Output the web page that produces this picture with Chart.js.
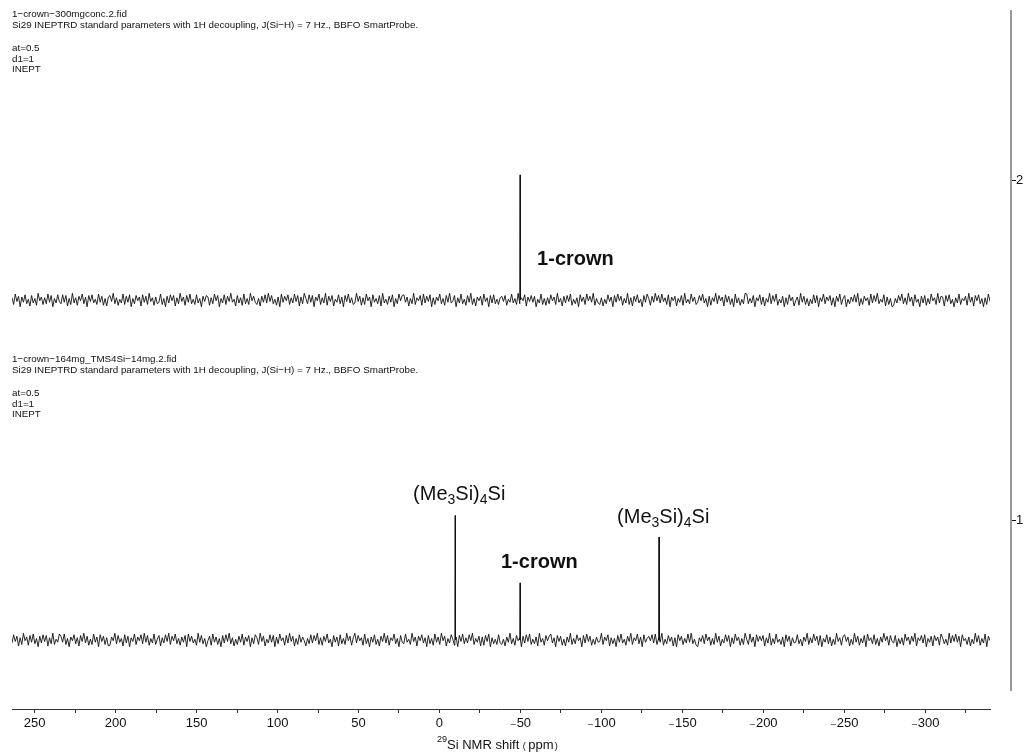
<!DOCTYPE html>
<html>
<head>
<meta charset="utf-8">
<script src="https://cdn.jsdelivr.net/npm/chart.js@4.4.0/dist/chart.umd.min.js"></script>
<style>
  html, body { margin: 0; padding: 0; background: #fff; }
  #wrap { width: 1026px; height: 753px; position: relative; }
</style>
</head>
<body>
<div id="wrap"><canvas id="nmr"></canvas></div>
<script>
// ppm window of the spectrum (left edge -> right edge)
var ppmLeft = 264;
var ppmRight = -340;
var xTickValues = [250, 225, 200, 175, 150, 125, 100, 75, 50, 25, 0, -25, -50, -75, -100, -125, -150, -175, -200, -225, -250, -275, -300, -325];
var yTickValues = [1, 2];

// spectrum 2 (top): 1-crown only
var topPeakShifts = [-49.8];
var topPeakHeights = [0.368];
// spectrum 1 (bottom): 1-crown + (Me3Si)4Si
var bottomPeakShifts = [-9.7, -49.8, -135.6];
var bottomPeakHeights = [0.366, 0.168, 0.303];

// baseline noise (units of ~0.0024)
var topNoise = [3,-6,8,-2,5,-9,4,-3,7,-5,1,-8,6,-4,2,-7,9,-1,4,-6,3,-5,8,-3,6,-9,2,-4,7,-2,
  -5,7,-3,6,-8,2,-6,9,-4,3,-7,5,-1,8,-5,4,-9,6,-2,7,-4,1,-6,8,-3,5,-7,2,-8,4,
  6,-2,9,-5,3,-7,1,-4,8,-6,5,-3,7,-9,2,-5,6,-1,4,-8,7,-3,5,-6,9,-2,3,-7,4,-5,
  -3,8,-6,2,-9,5,-4,7,-1,6,-8,3,-5,9,-2,4,-7,6,-3,8,-5,1,-6,7,-4,2,-9,5,-2,6,
  4,-7,3,-5,8,-1,6,-9,2,-4,7,-6,5,-2,9,-3,1,-8,6,-4,3,-7,8,-5,2,-6,9,-1,5,-3,
  -6,2,-8,5,-3,7,-4,9,-2,6,-5,1,-7,4,-9,8,-3,5,-1,7,-6,3,-4,8,-2,6,-8,4,-5,9,
  2,-5,7,-3,6,-9,4,-1,8,-6,3,-4,9,-7,5,-2,6,-8,1,-3,7,-5,4,-9,6,-2,8,-4,3,-6,
  -4,9,-2,5,-7,3,-6,8,-1,4,-9,7,-3,2,-5,6,-8,9,-4,1,-6,5,-3,7,-9,2,-5,8,-1,6,
  7,-3,4,-8,2,-5,9,-6,3,-1,6,-7,8,-4,5,-2,7,-9,3,-6,4,-1,8,-5,2,-7,6,-3,9,-4,
  -2,6,-9,3,-4,8,-5,1,-7,6,-3,9,-6,2,-8,4,-1,5,-7,8,-2,3,-9,6,-4,7,-5,1,-6,3,
  5,-2,6,-7,1,-3,8,-4,2,-6,9,-5,3,-1,7,-8,4,-2,6,-3,5,-9,1,-4,8,-6,2,-7,3,-5,
  7,-1,4,-6,9,-3,2,-8,5,-4,6,-2,8,-7,1,-5,3,-9,7,-2,4,-6,8,-1,5,-3,9,-7,2,-4,
  -6,3,-8,1,-5,7,-2,4,-9,6,-3,8,-1,5,-7,2,-4,9,-6,3,-8,5,-2,7,-4,1,-9,6,-3,8,
  2,-7,5,-3,9,-1,6,-4,8,-2,3,-6,7,-9,4,-1,5,-8,2,-3,6,-7,9,-4,1,-5,8,-2,4,-6,
  -3,6,-1,8,-4,2,-9,5,-7,3,-2,9,-5,6,-1,4,-8,7,-3,5,-6,2,-9,8,-4,3,-7,1,-5,9,
  8,-5,2,-4,6,-9,3,-1,7,-6,4,-8,2,-3,9,-5,6,-2,8,-7,1,-4,5,-9,3,-6,7,-1,4,-8,
  -1,4,-7,9,-3,5,-6,2,-8,1,-5,7,-4,6,-9,3,-2,8,-5,4,-1,6,-7,3,-9,5,-2,8,-6,2,
  6,-9,1,-5,4,-2,7,-3,9,-8,2,-6,5,-1,3,-7,8,-4,6,-2,9,-5,1,-3,7,-8,4,-6,2,-9,
  -7,2,-4,6,-1,8,-5,3,-6,9,-2,4,-8,7,-3,1,-9,5,-4,6,-7,2,-5,8,-1,3,-6,9,-4,5,
  4,-8,6,-2,7,-5,1,-9,3,-4,8,-6,2,-1,5,-7,9,-3,4,-8,6,-1,7,-5,2,-9,3,-6,8,-2];
var bottomNoise = [-4,7,-2,5,-8,3,-6,9,-1,4,-7,6,-3,8,-5,2,-9,5,-4,7,-2,6,-8,3,-5,9,-6,1,-3,8,
  5,-3,8,-6,2,-9,4,-1,7,-5,3,-8,6,-2,9,-4,5,-7,1,-6,8,-3,4,-9,7,-2,5,-6,3,-8,
  -7,4,-1,9,-5,6,-3,2,-8,7,-4,5,-9,3,-2,8,-6,4,-1,7,-5,9,-3,6,-7,2,-4,8,-6,1,
  6,-8,3,-4,7,-2,9,-6,5,-1,8,-5,2,-7,4,-3,6,-9,8,-2,5,-4,1,-7,9,-3,6,-5,2,-9,
  -1,5,-7,8,-3,4,-6,2,-9,6,-4,7,-2,9,-5,3,-8,1,-6,5,-3,8,-7,4,-2,6,-9,3,-5,7,
  3,-6,9,-2,5,-8,1,-4,7,-3,6,-9,4,-5,8,-1,3,-7,6,-4,9,-2,5,-8,2,-6,7,-3,4,-1,
  -8,2,-5,7,-4,6,-1,9,-6,3,-7,5,-2,8,-4,1,-9,6,-3,4,-8,7,-5,2,-6,9,-1,5,-7,3,
  9,-4,6,-1,3,-7,8,-5,2,-9,4,-3,7,-6,1,-8,5,-2,9,-4,6,-7,3,-1,8,-5,2,-9,6,-3,
  -5,8,-3,1,-6,9,-2,4,-8,5,-1,7,-4,3,-9,6,-5,2,-7,8,-3,4,-6,9,-1,5,-8,2,-4,7,
  1,-7,4,-9,6,-2,8,-5,3,-4,7,-1,9,-6,2,-3,5,-8,4,-7,6,-2,8,-9,3,-5,1,-6,7,-4,
  -6,1,-8,4,-3,9,-5,2,-7,6,-1,3,-9,5,-4,7,-2,8,-6,1,-5,4,-8,9,-3,2,-7,6,-1,5,
  8,-4,3,-9,6,-2,5,-7,1,-8,4,-3,9,-6,2,-5,7,-1,3,-9,6,-4,8,-2,5,-7,1,-6,4,-3,
  -2,9,-6,4,-1,7,-8,3,-5,2,-9,6,-3,8,-4,1,-7,5,-2,9,-6,3,-1,8,-5,4,-9,7,-3,2,
  5,-1,7,-4,8,-6,2,-3,9,-7,1,-5,6,-2,4,-8,3,-9,7,-1,5,-6,2,-4,8,-3,9,-5,1,-7,
  -9,3,-2,6,-5,8,-1,4,-7,2,-6,9,-3,5,-8,1,-4,7,-2,6,-9,3,-5,8,-1,4,-7,2,-6,9,
  1,-6,8,-3,4,-9,7,-2,5,-1,6,-8,3,-4,9,-7,2,-5,8,-3,1,-6,4,-9,7,-2,5,-8,3,-4,
  -3,7,-5,1,-8,4,-2,9,-6,3,-4,8,-1,5,-7,6,-9,2,-3,7,-5,4,-8,1,-6,9,-2,3,-7,5,
  7,-2,4,-8,1,-6,9,-3,5,-7,2,-4,6,-9,8,-1,3,-5,7,-6,2,-8,4,-3,9,-1,5,-7,6,-2,
  -4,6,-9,2,-5,3,-7,8,-1,4,-6,5,-2,9,-8,3,-1,6,-4,7,-9,2,-3,5,-8,6,-1,4,-7,8,
  3,-5,1,-7,9,-4,6,-2,8,-3,5,-9,7,-1,2,-6,4,-8,1,-5,9,-3,6,-7,2,-4,8,-9,5,-1];

var headerLines = [
  ['1\u2212crown\u2212300mgconc.2.fid', 'Si29 INEPTRD standard parameters with 1H decoupling, J(Si\u2212H) = 7 Hz., BBFO SmartProbe.', '', 'at=0.5', 'd1=1', 'INEPT'],
  ['1\u2212crown\u2212164mg_TMS4Si\u221214mg.2.fid', 'Si29 INEPTRD standard parameters with 1H decoupling, J(Si\u2212H) = 7 Hz., BBFO SmartProbe.', '', 'at=0.5', 'd1=1', 'INEPT']
];

// label anchors (ppm of left edge, y value of centre)
var labels = [
  { parts: [['1-crown', 0]], bold: true, ppm: -60.3, y: 1.765 },
  { parts: [['1-crown', 0]], bold: true, ppm: -38.0, y: 0.876 },
  { parts: [['(Me', 0], ['3', 1], ['Si)', 0], ['4', 1], ['Si', 0]], bold: false, ppm: 16.3, y: 1.074 },
  { parts: [['(Me', 0], ['3', 1], ['Si)', 0], ['4', 1], ['Si', 0]], bold: false, ppm: -109.7, y: 1.006 }
];

var FONT = '"Liberation Sans", Arial, "DejaVu Sans", sans-serif';

function buildSpectrum(noise, shifts, heights, base) {
  var pts = [];
  var step = (ppmLeft - ppmRight) / (noise.length - 1);
  for (var i = 0; i < noise.length; i++) {
    pts.push({ x: ppmLeft - i * step, y: base + noise[i] * 0.0022 });
  }
  for (var k = 0; k < shifts.length; k++) {
    pts.push({ x: shifts[k] + 0.2, y: base });
    pts.push({ x: shifts[k], y: base + heights[k] });
    pts.push({ x: shifts[k] - 0.2, y: base });
  }
  pts.sort(function (a, b) { return b.x - a.x; });
  return pts;
}

var topData = buildSpectrum(topNoise, topPeakShifts, topPeakHeights, 2 - 0.353);
var bottomData = buildSpectrum(bottomNoise, bottomPeakShifts, bottomPeakHeights, 1 - 0.353);

function drawParts(ctx, parts, x, y, size, bold) {
  var w = bold ? 'bold ' : '';
  for (var i = 0; i < parts.length; i++) {
    var sub = parts[i][1];
    ctx.font = w + (sub ? size * 0.7 : size) + 'px ' + FONT;
    ctx.fillText(parts[i][0], x, sub ? y + size * 0.27 : y);
    x += ctx.measureText(parts[i][0]).width;
  }
}

var extras = {
  id: 'extras',
  afterDraw: function (chart) {
    var ctx = chart.ctx;
    var xs = chart.scales.x, ys = chart.scales.y;
    ctx.save();
    ctx.fillStyle = '#111';
    ctx.textBaseline = 'middle';
    ctx.textAlign = 'left';

    // header blocks
    var tops = [14, 359];
    var offs = [0, 11, 0, 34, 45, 55];
    ctx.font = '9.8px ' + FONT;
    headerLines.forEach(function (block, b) {
      block.forEach(function (line, i) {
        if (line) ctx.fillText(line, 12, tops[b] + offs[i]);
      });
    });

    // right stack axis
    ctx.strokeStyle = '#999';
    ctx.lineWidth = 2;
    ctx.beginPath();
    ctx.moveTo(1011, 10);
    ctx.lineTo(1011, 691);
    ctx.stroke();
    ctx.strokeStyle = '#111';
    ctx.lineWidth = 1;
    yTickValues.forEach(function (v) {
      var py = Math.round(ys.getPixelForValue(v)) + 0.5;
      ctx.beginPath();
      ctx.moveTo(1012, py);
      ctx.lineTo(1016, py);
      ctx.stroke();
    });

    // peak labels
    labels.forEach(function (l) {
      drawParts(ctx, l.parts, xs.getPixelForValue(l.ppm), ys.getPixelForValue(l.y), 20, l.bold);
    });

    // axis title
    var tx = 437, ty = 745;
    ctx.font = '9px ' + FONT;
    ctx.fillText('29', tx, ty - 5);
    tx += ctx.measureText('29').width;
    ctx.font = '13px ' + FONT;
    ctx.fillText('Si NMR shift ', tx, ty);
    tx += ctx.measureText('Si NMR shift ').width;
    ctx.font = '9px ' + FONT;
    ctx.fillText('(', tx, ty + 2);
    tx += ctx.measureText('( ').width;
    ctx.font = '13px ' + FONT;
    ctx.fillText('ppm', tx, ty);
    tx += ctx.measureText('ppm').width + 1;
    ctx.font = '9px ' + FONT;
    ctx.fillText(')', tx, ty + 2);
    ctx.restore();
  }
};

var canvas = document.getElementById('nmr');
canvas.width = 1026;
canvas.height = 753;

new Chart(canvas, {
  type: 'line',
  data: {
    datasets: [
      { label: '2', data: topData, borderColor: '#111', borderWidth: 0.9, pointRadius: 0, tension: 0 },
      { label: '1', data: bottomData, borderColor: '#111', borderWidth: 0.9, pointRadius: 0, tension: 0 }
    ]
  },
  options: {
    responsive: false,
    animation: false,
    layout: { padding: { top: 10, left: 12, right: 0, bottom: 0 } },
    plugins: { legend: { display: false }, tooltip: { enabled: false } },
    scales: {
      x: {
        type: 'linear',
        reverse: true,
        min: ppmRight,
        max: ppmLeft,
        afterBuildTicks: function (s) { s.ticks = xTickValues.map(function (v) { return { value: v }; }); },
        afterFit: function (s) { s.height = 44; s.paddingLeft = 0; s.paddingRight = 0; s.paddingTop = 0; s.paddingBottom = 0; },
        border: { display: true, color: '#333', width: 1 },
        grid: { drawOnChartArea: false, drawTicks: true, tickLength: 4, color: '#333' },
        ticks: {
          autoSkip: false,
          maxRotation: 0,
          padding: 3,
          color: '#111',
          font: { size: 13, family: FONT },
          callback: function (v) {
            if (v % 50 !== 0) return '';
            return v < 0 ? '\u208B' + (-v) : String(v);
          }
        }
      },
      y: {
        type: 'linear',
        position: 'right',
        min: 0.444,
        max: 2.5,
        afterBuildTicks: function (s) { s.ticks = yTickValues.map(function (v) { return { value: v }; }); },
        afterFit: function (s) { s.width = 36; s.paddingLeft = 0; s.paddingRight = 0; s.paddingTop = 0; s.paddingBottom = 0; },
        border: { display: false },
        grid: { drawOnChartArea: false, drawTicks: false },
        ticks: { padding: 26, color: '#111', font: { size: 13, family: FONT } }
      }
    }
  },
  plugins: [extras]
});
</script>
</body>
</html>
